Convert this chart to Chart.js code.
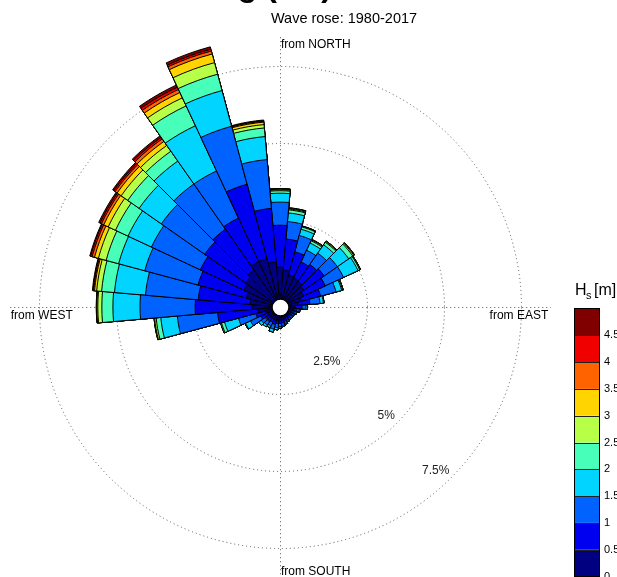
<!DOCTYPE html>
<html lang="en">
<head>
<meta charset="UTF-8">
<script src="https://cdn.jsdelivr.net/npm/chart.js@4"></script>
<title>Wave rose: 1980-2017</title>
<style>
  html, body { margin: 0; padding: 0; background: #fff; }
  canvas { display: block; }
</style>
</head>
<body>
<canvas id="roseChart" width="617" height="577"></canvas>

<script>
// direction bins (deg, where the waves come from), clockwise from north
const directions = [0, 10, 20, 30, 40, 50, 60, 70, 80, 90, 100, 110, 120, 130, 140, 150, 160, 170,
                    180, 190, 200, 210, 220, 230, 240, 250, 260, 270, 280, 290, 300, 310, 320, 330, 340, 350];

// Hs classes and the colorbar
const hsClasses = ['0-0.5', '0.5-1', '1-1.5', '1.5-2', '2-2.5', '2.5-3', '3-3.5', '3.5-4', '4-4.5', '>4.5'];
const hsColors = ['#000080', '#0000f1', '#0063ff', '#00d4ff', '#47ffb8', '#b8ff47', '#ffd400', '#ff6300', '#f10000', '#800000'];
const colorbarTicks = ['0', '0.5', '1', '1.5', '2', '2.5', '3', '3.5', '4', '4.5'];

// frequency rings (%)
const ringValues = [2.5, 5, 7.5];
const ringLabels = ['2.5%', '5%', '7.5%'];

// frequency of occurrence (%) per direction, one array per Hs class
const hs00_05 = [0.97, 0.88, 0.75, 0.71, 0.68, 0.62, 0.52, 0.39, 0.26, 0.16, 0.10, 0.06, 0.06, 0.05, 0.06, 0.06, 0.08, 0.10,
                 0.10, 0.11, 0.13, 0.11, 0.13, 0.13, 0.13, 0.16, 0.39, 0.58, 0.65, 0.81, 0.97, 1.04, 1.14, 1.30, 1.30, 1.14];
const hs05_10 = [1.36, 1.01, 0.78, 0.58, 0.68, 0.81, 0.78, 0.65, 0.39, 0.23, 0.13, 0.10, 0.07, 0.07, 0.07, 0.08, 0.08, 0.10,
                 0.11, 0.11, 0.13, 0.11, 0.13, 0.13, 0.23, 0.33, 1.32, 1.85, 1.69, 1.62, 1.56, 1.62, 1.62, 1.56, 2.50, 1.75];
const hs10_15 = [0.75, 0.57, 0.55, 0.42, 0.45, 0.52, 0.65, 0.52, 0.33, 0.13, 0.07, 0.07, 0.05, 0.05, 0.05, 0.05, 0.07, 0.08,
                 0.10, 0.13, 0.16, 0.13, 0.13, 0.16, 0.37, 0.58, 1.31, 1.79, 1.72, 1.79, 1.75, 1.72, 1.79, 1.69, 1.95, 1.59];
const hs15_20 = [0.29, 0.28, 0.21, 0.26, 0.33, 0.45, 0.52, 0.19, 0.11, 0.05, 0.03, 0.02, 0.02, 0.02, 0.02, 0.03, 0.03, 0.03,
                 0.05, 0.07, 0.10, 0.07, 0.07, 0.10, 0.18, 0.47, 0.54, 0.88, 1.01, 0.88, 0.84, 0.88, 0.91, 1.62, 1.20, 0.75];
const hs20_25 = [0.08, 0.10, 0.08, 0.08, 0.10, 0.16, 0.06, 0.03, 0.02, 0, 0, 0, 0, 0, 0, 0, 0, 0,
                 0, 0, 0, 0, 0, 0, 0.02, 0.10, 0.15, 0.36, 0.42, 0.42, 0.45, 0.45, 0.39, 0.71, 0.55, 0.28];
const hs25_30 = [0.03, 0.03, 0.02, 0.03, 0.03, 0.04, 0.02, 0.02, 0, 0, 0, 0, 0, 0, 0, 0, 0, 0,
                 0, 0, 0, 0, 0, 0, 0, 0.03, 0.05, 0.13, 0.16, 0.26, 0.26, 0.26, 0.23, 0.29, 0.39, 0.11];
const hs30_35 = [0.02, 0.02, 0.01, 0.01, 0.02, 0.02, 0.01, 0, 0, 0, 0, 0, 0, 0, 0, 0, 0, 0,
                 0, 0, 0, 0, 0, 0, 0, 0, 0.02, 0.03, 0.07, 0.13, 0.16, 0.16, 0.16, 0.19, 0.29, 0.08];
const hs35_40 = [0.01, 0.01, 0, 0.01, 0, 0.01, 0, 0, 0, 0, 0, 0, 0, 0, 0, 0, 0, 0,
                 0, 0, 0, 0, 0, 0, 0, 0, 0, 0.01, 0.03, 0.08, 0.08, 0.08, 0.10, 0.11, 0.10, 0.03];
const hs40_45 = [0.01, 0.01, 0, 0, 0, 0, 0, 0, 0, 0, 0, 0, 0, 0, 0, 0, 0, 0,
                 0, 0, 0, 0, 0, 0, 0, 0, 0, 0.01, 0.02, 0.05, 0.05, 0.05, 0.06, 0.08, 0.06, 0.02];
const hs45_up = [0, 0, 0, 0, 0, 0, 0, 0, 0, 0, 0, 0, 0, 0, 0, 0, 0, 0,
                 0, 0, 0, 0, 0, 0, 0, 0, 0, 0, 0.02, 0.03, 0.05, 0.05, 0.06, 0.08, 0.08, 0.02];

const classData = [hs00_05, hs05_10, hs10_15, hs15_20, hs20_25, hs25_30, hs30_35, hs35_40, hs40_45, hs45_up];

// stack the classes: every dataset holds the running total, the lowest class is drawn on top
let running = directions.map(() => 0);
const datasets = classData.map((vals, k) => {
    running = running.map((v, i) => v + vals[i]);
    return {
        label: hsClasses[k],
        data: running.slice(),
        backgroundColor: hsColors[k],
        borderColor: '#000',
        borderWidth: 1
    };
});

const holeOffset = 0.325;   // empty circle in the middle, in % units
const axisExtent = 8.45;    // length of the N-S / E-W lines, in % units
const fontFamily = '"Liberation Sans", Arial, Helvetica, sans-serif';

const roseDecor = {
    id: 'roseDecor',
    beforeDatasetsDraw(chart) {
        const ctx = chart.ctx;
        const r = chart.scales.r;
        const cx = r.xCenter + 0.5, cy = r.yCenter + 0.5;
        ctx.save();
        ctx.strokeStyle = '#555';
        ctx.lineWidth = 1;
        ctx.setLineDash([1, 3]);
        ringValues.forEach(v => {
            ctx.beginPath();
            ctx.arc(cx, cy, r.getDistanceFromCenterForValue(v), 0, 2 * Math.PI);
            ctx.stroke();
        });
        const len = r.getDistanceFromCenterForValue(axisExtent);
        ctx.beginPath();
        ctx.moveTo(cx, cy - len); ctx.lineTo(cx, cy + len);
        ctx.moveTo(cx - len, cy); ctx.lineTo(cx + len, cy);
        ctx.stroke();
        ctx.restore();
    },
    afterDatasetsDraw(chart) {
        const ctx = chart.ctx;
        const r = chart.scales.r;
        const cx = r.xCenter, cy = r.yCenter;
        ctx.save();
        // hole
        ctx.beginPath();
        ctx.arc(cx + 0.5, cy + 0.5, 8.5, 0, 2 * Math.PI);
        ctx.fillStyle = '#fff';
        ctx.fill();
        ctx.lineWidth = 1.5;
        ctx.strokeStyle = '#000';
        ctx.stroke();

        // ring labels along the SE diagonal
        ctx.fillStyle = '#222';
        ctx.font = '12px ' + fontFamily;
        ctx.textAlign = 'right';
        ctx.textBaseline = 'bottom';
        ringValues.forEach((v, i) => {
            const d = r.getDistanceFromCenterForValue(v);
            ctx.fillText(ringLabels[i], cx + d * Math.SQRT1_2 - 1, cy + d * Math.SQRT1_2 - 1);
        });

        // direction labels at the end of the axes
        const len = r.getDistanceFromCenterForValue(axisExtent);
        ctx.fillStyle = '#000';
        ctx.textAlign = 'left';
        ctx.textBaseline = 'top';
        ctx.fillText('from NORTH', cx + 1, cy - len + 2);
        ctx.fillText('from WEST', cx - len + 1, cy + 3);
        ctx.textAlign = 'right';
        ctx.fillText('from EAST', cx + len - 2, cy + 3);
        ctx.textAlign = 'left';
        ctx.textBaseline = 'bottom';
        ctx.fillText('from SOUTH', cx + 1, cy + len);
        ctx.restore();
    },
    afterDraw(chart) {
        const ctx = chart.ctx;
        ctx.save();
        // titles (the upper one is cut by the top edge)
        ctx.fillStyle = '#000';
        ctx.textBaseline = 'alphabetic';
        ctx.font = 'bold 32px ' + fontFamily;
        ctx.textAlign = 'right';
        ctx.fillText('Wave climate at Hamburg (DE)', 332, -4);
        ctx.font = '14.5px ' + fontFamily;
        ctx.textAlign = 'center';
        ctx.fillText('Wave rose: 1980-2017', 344, 23);

        // colorbar
        const x0 = 574.5, w = 25, top = 308.5, h = 26.8;
        const n = hsColors.length;
        for (let k = 0; k < n; k++) {
            const y = top + (n - 1 - k) * h;
            ctx.fillStyle = hsColors[k];
            ctx.fillRect(x0, y, w, h);
        }
        ctx.strokeStyle = '#222';
        ctx.lineWidth = 1;
        for (let k = 1; k < n; k++) {
            const y = Math.round(top + k * h) + 0.5;
            ctx.beginPath(); ctx.moveTo(x0, y); ctx.lineTo(x0 + w, y); ctx.stroke();
        }
        ctx.strokeStyle = '#000';
        ctx.strokeRect(x0, top, w, n * h);

        ctx.fillStyle = '#000';
        ctx.font = '11px ' + fontFamily;
        ctx.textAlign = 'left';
        ctx.textBaseline = 'middle';
        colorbarTicks.forEach((t, k) => {
            ctx.fillText(t, 604, top + (n - k) * h);
        });

        // H_s [m]
        ctx.textBaseline = 'alphabetic';
        ctx.font = '16px ' + fontFamily;
        ctx.fillText('H', 575, 295);
        ctx.font = '11px ' + fontFamily;
        ctx.fillText('s', 586, 299);
        ctx.font = '16px ' + fontFamily;
        ctx.fillText('[m]', 594, 295);
        ctx.restore();
    }
};

const ctx = document.getElementById('roseChart').getContext('2d');
const roseChart = new Chart(ctx, {
    type: 'polarArea',
    data: {
        labels: directions.map(d => d + '°'),
        datasets: datasets
    },
    options: {
        responsive: false,
        animation: false,
        layout: {
            padding: { left: 39, right: 96, top: 66, bottom: 29 }
        },
        scales: {
            r: {
                min: -holeOffset,
                max: 7.5,
                startAngle: -5,
                ticks: { display: false },
                grid: { display: false },
                angleLines: { display: false },
                pointLabels: { display: false }
            }
        },
        plugins: {
            legend: { display: false },
            tooltip: { enabled: false }
        }
    },
    plugins: [roseDecor]
});
</script>
</body>
</html>
